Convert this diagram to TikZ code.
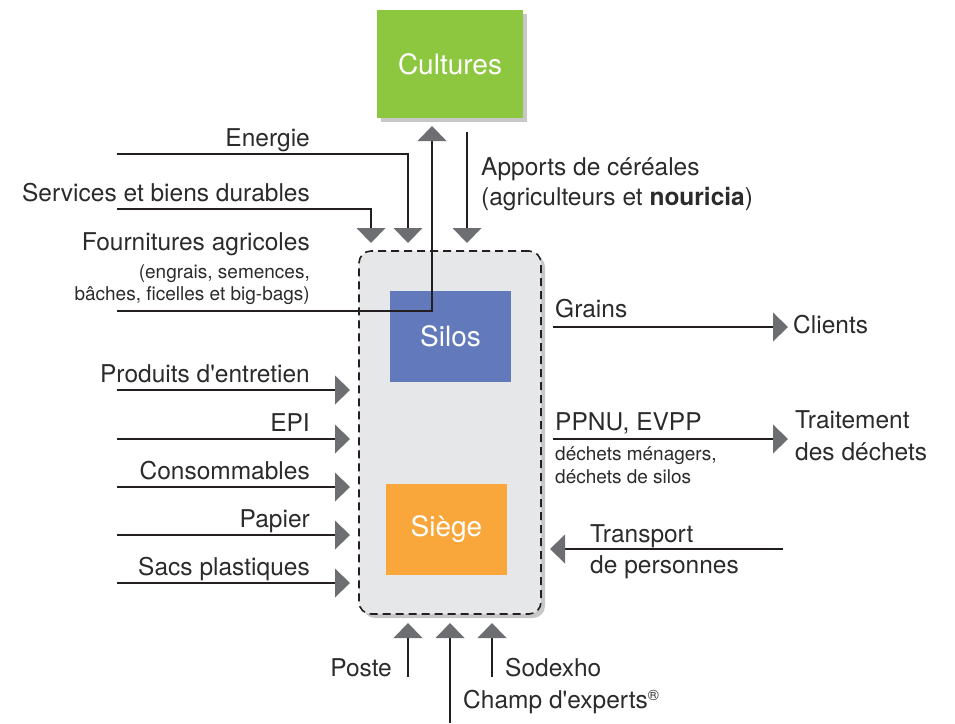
\documentclass[tikz,border=0pt]{standalone}
\usepackage{fontspec}
\setmainfont{TeX Gyre Heros}[Ligatures=TeXOff]
\usetikzlibrary{arrows.meta,shadows}
\definecolor{txt}{HTML}{2B2B2B}
\definecolor{ln}{HTML}{231F20}
\definecolor{tipgray}{HTML}{6D6E71}
\definecolor{boxgray}{HTML}{E6E7E8}
\definecolor{cultgreen}{HTML}{8DC63F}
\definecolor{silosblue}{HTML}{6279BC}
\definecolor{siegeorange}{HTML}{F9A73B}

\begin{document}
\begin{tikzpicture}[x=1pt,y=-1pt,
  lbl/.style={inner sep=0pt,text=txt,font=\fontsize{24.5}{29}\selectfont},
  small/.style={inner sep=0pt,text=txt,font=\fontsize{19}{22}\selectfont},
  unit/.style={inner sep=0pt,text=white,font=\fontsize{28}{33}\selectfont},
  flow/.style={draw=ln,line width=1.8pt,-{Triangle[width=29pt,length=15pt,line width=0pt,color=tipgray]}},
  boxshadow/.style={drop shadow={shadow xshift=4pt,shadow yshift=-4pt,opacity=.22,fill=black}}]

\useasboundingbox (0,0) rectangle (955,723);

\node[boxshadow,fill=boxgray,draw=ln,line width=1.6pt,dash pattern=on 8pt off 5pt,rounded corners=12pt,
  minimum width=182pt,minimum height=363pt] (site) at (450,432.5) {};
\node[boxshadow,fill=cultgreen,minimum width=146pt,minimum height=108pt,unit] (cultures) at (450,64) {Cultures};
\node[fill=silosblue,minimum width=121pt,minimum height=91pt,unit] (silos) at (450.5,336.5) {Silos};
\node[fill=siegeorange,minimum width=121pt,minimum height=91pt,unit] (siege) at (446.5,529.5) {Siège};

\coordinate (enA) at (117,154);
\coordinate (enB) at (408,243);
\draw[flow] (enA) -| (enB);
\node[lbl,anchor=base east] (energie) at (310,146) {Energie};

\coordinate (sbA) at (117,209);
\coordinate (sbB) at (371,243);
\draw[flow] (sbA) -| (sbB);
\node[lbl,anchor=base east] (services) at (310,201) {Services et biens durables};

\coordinate (apA) at (467,132);
\coordinate (apB) at (467,243);
\draw[flow] (apA) -- (apB);
\node[lbl,anchor=base west] (apports) at (481,175) {Apports de céréales};
\node[lbl,anchor=base west] (apports2) at (481,205) {(agriculteurs et \textbf{nouricia})};

\coordinate (foA) at (117,311);
\coordinate (foB) at (432,126);
\draw[flow] (foA) -| (foB);
\node[lbl,anchor=base east] (fournitures) at (310,250) {Fournitures agricoles};
\node[small,anchor=base east] (fournitures2) at (310,278) {(engrais, semences,};
\node[small,anchor=base east] (fournitures3) at (310,300) {bâches, ficelles et big-bags)};

\foreach \y/\name/\txt in {390/entretien/Produits d'entretien,439/epi/EPI,487/conso/Consommables,535/papier/Papier,583/sacs/Sacs plastiques}{
  \coordinate (\name A) at (117,\y);
  \coordinate (\name B) at (350,\y);
  \draw[flow] (\name A) -- (\name B);
  \node[lbl,anchor=base east] (\name) at (310,\y-8) {\txt};
}

\coordinate (grA) at (553,327);
\coordinate (grB) at (788,327);
\draw[flow] (grA) -- (grB);
\node[lbl,anchor=base west] (grains) at (555,317) {Grains};
\node[lbl,anchor=base west] (clients) at (793,333) {Clients};

\coordinate (ppA) at (553,439);
\coordinate (ppB) at (788,439);
\draw[flow] (ppA) -- (ppB);
\node[lbl,anchor=base west] (ppnu) at (555,430) {PPNU, EVPP};
\node[small,anchor=base west] (ppnu2) at (555,460) {déchets ménagers,};
\node[small,anchor=base west] (ppnu3) at (555,483) {déchets de silos};
\node[lbl,anchor=base west] (traitement) at (795,428) {Traitement};
\node[lbl,anchor=base west] (traitement2) at (795,460) {des déchets};

\coordinate (trA) at (783,549);
\coordinate (trB) at (550,549);
\draw[flow] (trA) -- (trB);
\node[lbl,anchor=base west] (transport) at (590,542) {Transport};
\node[lbl,anchor=base west] (transport2) at (590,573) {de personnes};

\coordinate (poA) at (408,677);
\coordinate (poB) at (408,623);
\draw[flow] (poA) -- (poB);
\node[lbl,anchor=base east] (poste) at (392,676) {Poste};

\coordinate (chA) at (450,723);
\coordinate (chB) at (450,623);
\draw[flow] (chA) -- (chB);
\node[lbl,anchor=base west] (champ) at (463,708) {Champ d'experts{\fontsize{15}{15}\selectfont\raisebox{8pt}{®}}};

\coordinate (soA) at (492,677);
\coordinate (soB) at (492,623);
\draw[flow] (soA) -- (soB);
\node[lbl,anchor=base west] (sodexho) at (505,676) {Sodexho};
\end{tikzpicture}
\end{document}
